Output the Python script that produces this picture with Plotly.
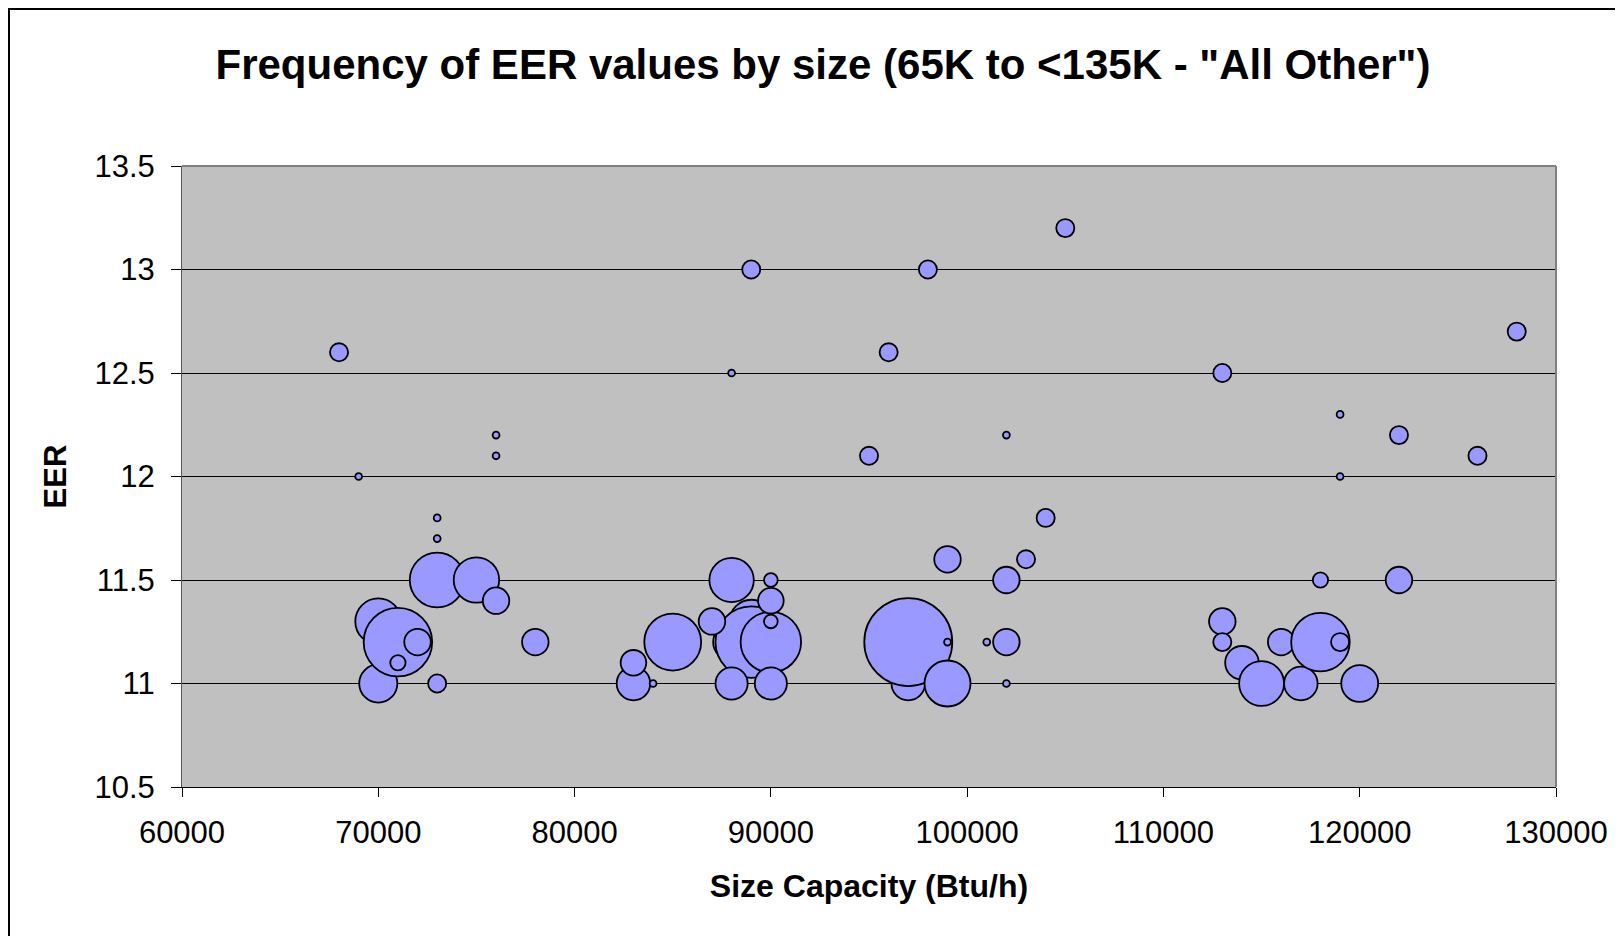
import plotly.graph_objects as go

# Bubble data: size capacity (Btu/h), EER, frequency (count of models)
size_btuh = [70000, 70000, 71000, 71000, 72000, 68000, 69000, 73000, 73000, 73000,
             73000, 75000, 76000, 76000, 76000, 78000, 83000, 83000, 84000, 85000,
             88000, 89000, 89000, 87000, 88000, 88000, 88000, 89000, 90000, 90000,
             90000, 90000, 90000, 95000, 96000, 97000, 97000, 98000, 99000, 99000,
             99000, 101000, 102000, 102000, 102000, 102000, 103000, 104000, 105000, 113000,
             113000, 113000, 114000, 115000, 116000, 117000, 118000, 118000, 119000, 119000,
             119000, 120000, 122000, 122000, 126000, 128000]
eer = [11.3, 11.0, 11.2, 11.1, 11.2, 12.6, 12.0, 11.8, 11.7, 11.5,
       11.0, 11.5, 12.2, 12.1, 11.4, 11.2, 11.0, 11.1, 11.0, 11.2,
       11.2, 11.3, 11.2, 11.3, 12.5, 11.5, 11.0, 13.0, 11.2, 11.5,
       11.4, 11.3, 11.0, 12.1, 12.6, 11.0, 11.2, 13.0, 11.6, 11.0,
       11.2, 11.2, 12.2, 11.5, 11.2, 11.0, 11.6, 11.8, 13.2, 12.5,
       11.3, 11.2, 11.1, 11.0, 11.2, 11.0, 11.2, 11.5, 12.3, 12.0,
       11.2, 11.0, 12.2, 11.5, 12.1, 12.7]
frequency = [45, 31, 100, 5, 15, 7, 1, 1, 1, 64,
             7, 44, 1, 1, 15, 15, 24, 14, 1, 69,
             29, 40, 109, 15, 1, 42, 22, 7, 78, 4,
             14, 4, 22, 7, 7, 24, 165, 7, 15, 45,
             1, 1, 1, 15, 15, 1, 7, 7, 7, 7,
             15, 7, 24, 43, 15, 24, 73, 5, 1, 1,
             7, 29, 7, 15, 7, 7]

x_ticks = [60000, 70000, 80000, 90000, 100000, 110000, 120000, 130000]
x_ticktext = ["60000", "70000", "80000", "90000", "100000", "110000", "120000", "130000"]
y_ticks = [10.5, 11, 11.5, 12, 12.5, 13, 13.5]
y_ticktext = ["10.5", "11", "11.5", "12", "12.5", "13", "13.5"]

title_text = 'Frequency of EER values by size (65K to <135K - "All Other")'
x_title = "Size Capacity (Btu/h)"
y_title = "EER"

FONT = "Liberation Sans, Arial, sans-serif"
max_diam = 88
sizeref = 2.0 * max(frequency) / (max_diam ** 2)

fig = go.Figure()
fig.add_trace(go.Scatter(
    x=size_btuh, y=eer, mode="markers",
    marker=dict(size=frequency, sizemode="area", sizeref=sizeref,
                color="#9999FF", opacity=1,
                line=dict(color="black", width=1.8)),
    showlegend=False, hoverinfo="x+y+text", text=[str(f) for f in frequency],
))

# page body has an 8px margin; figure coordinates are page coordinates minus 8
OFF = 8
W, H = 1615, 928
L, T = 182 - OFF, 166 - OFF
pw, ph = 1374, 621
R, B = W - L - pw, H - T - ph

fig.update_layout(
    width=W, height=H,
    margin=dict(l=L, r=R, t=T, b=B, autoexpand=False),
    paper_bgcolor="white", plot_bgcolor="#C0C0C0",
    font=dict(family=FONT, color="black"),
    title=dict(text="<b>" + title_text.replace("<", "&lt;") + "</b>",
               font=dict(size=42, family=FONT, color="black"),
               x=(823 - OFF) / W, xref="container", xanchor="center",
               y=1 - (64 - OFF) / H, yref="container", yanchor="middle"),
    xaxis=dict(range=[60000, 130000], tickvals=x_ticks, ticktext=x_ticktext,
               showgrid=False, zeroline=False, showline=True, linecolor="black",
               linewidth=1, ticks="outside", ticklen=9, tickcolor="black",
               tickfont=dict(size=31, family=FONT, color="black"),
               ticklabelstandoff=9,
               title=dict(text="<b>" + x_title + "</b>", standoff=25,
                          font=dict(size=32, family=FONT, color="black"))),
    yaxis=dict(range=[10.5, 13.5], tickvals=y_ticks, ticktext=y_ticktext,
               showgrid=True, gridcolor="black", gridwidth=1,
               zeroline=False, showline=True, linecolor="#555555",
               linewidth=1, ticks="outside", ticklen=10, tickcolor="black",
               tickfont=dict(size=31, family=FONT, color="black"),
               ticklabelstandoff=10,
               title=dict(text="<b>" + y_title + "</b>", standoff=18,
                          font=dict(size=31, family=FONT, color="black"))),
    shapes=[
        # plot area top and right borders (gray)
        dict(type="line", xref="paper", yref="paper", x0=0, x1=1, y0=1, y1=1,
             line=dict(color="#808080", width=2), layer="above"),
        dict(type="line", xref="paper", yref="paper", x0=1, x1=1, y0=0, y1=1,
             line=dict(color="#808080", width=2), layer="above"),
        # outer chart frame
        dict(type="rect", xref="paper", yref="paper",
             x0=(1 - L) / pw, x1=(1613 - L) / pw,
             y0=(T + ph - (H + 20)) / ph, y1=(T + ph - 1) / ph,
             line=dict(color="black", width=2), layer="above"),
    ],
)

fig.write_html("out.html")
